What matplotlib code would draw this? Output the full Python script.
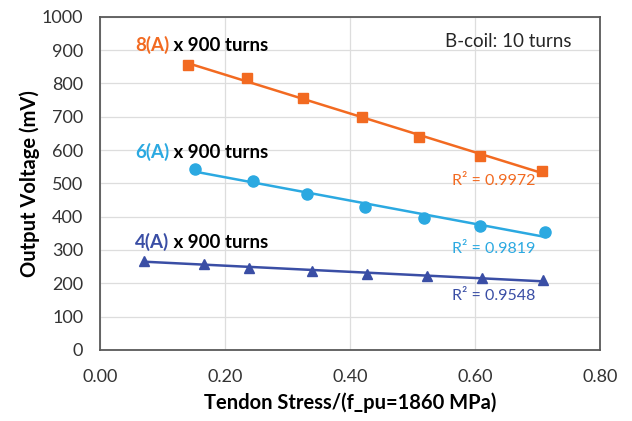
import matplotlib
matplotlib.use("Agg")
import matplotlib.pyplot as plt
import numpy as np

plt.rcParams["font.family"] = ["Lato", "DejaVu Sans"]

# data
x_8a = [0.141, 0.235, 0.325, 0.419, 0.511, 0.609, 0.708]
v_8a = [855, 815, 755, 700, 640, 582, 537]
x_6a = [0.152, 0.245, 0.331, 0.424, 0.519, 0.608, 0.713]
v_6a = [543, 508, 468, 430, 397, 373, 353]
x_4a = [0.070, 0.167, 0.239, 0.340, 0.427, 0.523, 0.611, 0.709]
v_4a = [268, 258, 247, 237, 228, 222, 216, 209]
r2_labels = ["R² = 0.9972", "R² = 0.9819", "R² = 0.9548"]
current_labels = ["8(A)", "6(A)", "4(A)"]

colors = ["#F26A21", "#2BA9E1", "#3A4EA5"]
markers = ["s", "o", "^"]
msizes = [7.5, 8, 7]

fig = plt.figure(figsize=(6.32, 4.21), dpi=100)
ax = fig.add_axes([0.158, 0.169, 0.791, 0.791])

series = [(x_8a, v_8a), (x_6a, v_6a), (x_4a, v_4a)]
for (xs, ys), c, m, ms in zip(series, colors, markers, msizes):
    xs = np.array(xs)
    ys = np.array(ys)
    ax.plot(xs, ys, linestyle="none", marker=m, markersize=ms, color=c, zorder=3)
    # linear trendline over the data range
    k, b = np.polyfit(xs, ys, 1)
    xl = np.array([xs.min(), xs.max()])
    ax.plot(xl, k * xl + b, color=c, linewidth=1.8, zorder=2)

ax.set_xlim(0, 0.8)
ax.set_ylim(0, 1000)
ax.set_xticks(np.arange(0, 0.81, 0.2))
ax.set_xticklabels([f"{v:.2f}" for v in np.arange(0, 0.81, 0.2)])
ax.set_yticks(np.arange(0, 1001, 100))
ax.tick_params(length=0, labelsize=13, colors="#333333")
ax.tick_params(axis="x", pad=14)
ax.tick_params(axis="y", pad=12)
ax.grid(True, color="#DDDDDD", linewidth=0.9)
ax.set_axisbelow(True)
for s in ax.spines.values():
    s.set_color("#595959")
    s.set_linewidth(1.3)

ax.set_xlabel("Tendon Stress/(f_pu=1860 MPa)", fontsize=14.5, fontweight="bold", labelpad=5)
ax.set_ylabel("Output Voltage (mV)", fontsize=14.5, fontweight="bold", labelpad=1)

# series labels: coloured current + black turns
label_y = [915, 595, 325]
for lab, y, c in zip(current_labels, label_y, colors):
    t = ax.text(0.056, y, lab, color=c, fontsize=13.5, fontweight="bold", va="center")
    ax.annotate(" x 900 turns", xy=(1, 0), xycoords=t, va="bottom", ha="left",
                fontsize=13.5, fontweight="bold", color="black")

r2_y = [506, 302, 163]
for lab, y, c in zip(r2_labels, r2_y, colors):
    ax.text(0.563, y, lab, color=c, fontsize=11.5, va="center")

ax.text(0.552, 925, "B-coil: 10 turns", fontsize=13.5, va="center", color="#262626")

fig.savefig("out.png", dpi=100)
